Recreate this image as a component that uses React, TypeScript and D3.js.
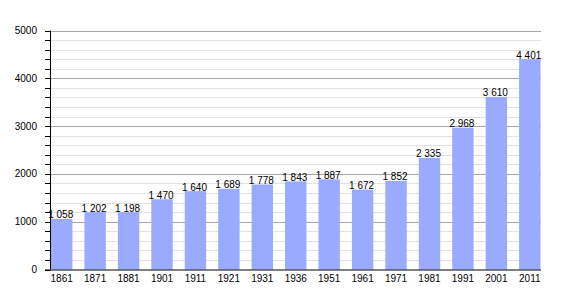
import React from "react";
import * as d3 from "d3";

const years = ["1861","1871","1881","1901","1911","1921","1931","1936","1951","1961","1971","1981","1991","2001","2011"];
const population = [1058,1202,1198,1470,1640,1689,1778,1843,1887,1672,1852,2335,2968,3610,4401];
const majorTicks = [0,1000,2000,3000,4000,5000];
const minorTicks = d3.range(0, 5001, 200);

const W = 570, H = 300;
const left = 50.5, right = 541, top = 30.5, bottom = 269.5;

function fmt(v: number) {
  const s = String(v);
  return s.length > 3 ? s.slice(0, s.length - 3) + " " + s.slice(s.length - 3) : s;
}

export default function App() {
  const x = d3.scaleBand<string>().domain(years).range([51, 540.5]).paddingInner(0.36).paddingOuter(0);
  const y = d3.scaleLinear().domain([0, 5000]).range([bottom, top]);
  const font = "'Liberation Sans', Arial, sans-serif";
  return (
    <svg width={W} height={H} style={{ position: "absolute", left: 0, top: 0, background: "#fff" }} fontFamily={font}>
      {minorTicks.filter(t => t % 1000 !== 0).map(t => (
        <line key={"mg" + t} x1={left} x2={right} y1={Math.round(y(t)) + 0.5} y2={Math.round(y(t)) + 0.5} stroke="#e2e2e2" strokeWidth={1} />
      ))}
      {majorTicks.filter(t => t > 0).map(t => (
        <line key={"Mg" + t} x1={left} x2={right} y1={Math.round(y(t)) + 0.5} y2={Math.round(y(t)) + 0.5} stroke="#a6a6a6" strokeWidth={1} />
      ))}
      {population.map((v, i) => (
        <rect key={"b" + i} x={x(years[i])!} y={y(v)} width={x.bandwidth()} height={bottom - y(v)} fill="#99aaff" />
      ))}
      {population.map((v, i) => (
        <text key={"v" + i} x={x(years[i])! + x.bandwidth() / 2 - 1} y={y(v) - 0.5} textAnchor="middle" fontSize={10} fill="#000">{fmt(v)}</text>
      ))}
      {minorTicks.map(t => (
        <line key={"t" + t} x1={45} x2={left} y1={Math.round(y(t)) + 0.5} y2={Math.round(y(t)) + 0.5} stroke="#000" strokeWidth={1} />
      ))}
      <line x1={left} x2={left} y1={top} y2={bottom} stroke="#000" strokeWidth={1} />
      <line x1={45} x2={right} y1={bottom + 0.5} y2={bottom + 0.5} stroke="#000" strokeWidth={1} />
      {majorTicks.map(t => (
        <text key={"yl" + t} x={37} y={y(t) + 3.5} textAnchor="end" fontSize={10} fill="#000">{t}</text>
      ))}
      {years.map(yr => (
        <text key={"xl" + yr} x={x(yr)! + x.bandwidth() / 2} y={282} textAnchor="middle" fontSize={10} fill="#000">{yr}</text>
      ))}
    </svg>
  );
}
